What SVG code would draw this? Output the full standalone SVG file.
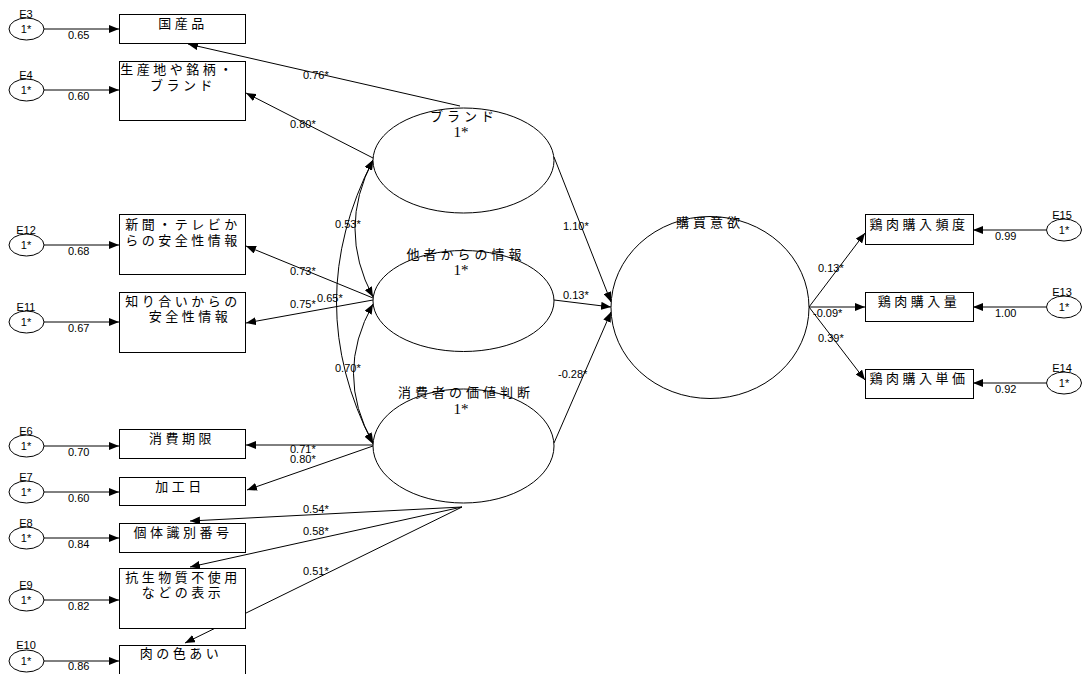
<svg xmlns="http://www.w3.org/2000/svg" width="1088" height="674" viewBox="0 0 1088 674">
<defs>
<marker id="arr" markerUnits="userSpaceOnUse" markerWidth="10" markerHeight="8" refX="10" refY="4" orient="auto-start-reverse">
<path d="M0,0 L10,4 L0,8 z" fill="#000"/>
</marker>
<style>
.bx{fill:#fff;stroke:#000;stroke-width:1}
.el{fill:#fff;stroke:#000;stroke-width:1}
.ln{fill:none;stroke:#000;stroke-width:1}
.a{marker-end:url(#arr)}
.d{marker-start:url(#arr);marker-end:url(#arr)}
.jp{font-family:"Noto Sans CJK JP","Noto Sans CJK SC",sans-serif;font-size:13px;letter-spacing:3.5px;fill:#000;text-anchor:middle}
.lt{font-family:"Noto Sans CJK JP","Noto Sans CJK SC",sans-serif;font-size:13px;letter-spacing:4px;fill:#000;text-anchor:middle}
.one{font-family:"Liberation Serif",serif;font-size:15px;fill:#000;text-anchor:middle}
.n{font-family:"Liberation Sans",Arial,sans-serif;font-size:11px;fill:#000}
.e{font-family:"Liberation Sans",Arial,sans-serif;font-size:11px;fill:#000;text-anchor:middle}
</style>
</defs>
<rect width="1088" height="674" fill="#fff"/>

<g id="connectors">
<line class="ln a" x1="44" y1="29" x2="119" y2="29"/>
<line class="ln a" x1="44" y1="90" x2="119" y2="90"/>
<line class="ln a" x1="44" y1="245" x2="119" y2="245"/>
<line class="ln a" x1="44" y1="322" x2="119" y2="322"/>
<line class="ln a" x1="44" y1="446" x2="119" y2="446"/>
<line class="ln a" x1="44" y1="492" x2="119" y2="492"/>
<line class="ln a" x1="44" y1="538" x2="119" y2="538"/>
<line class="ln a" x1="44" y1="600" x2="119" y2="600"/>
<line class="ln a" x1="44" y1="661" x2="119" y2="661"/>
<line class="ln a" x1="1046" y1="230" x2="973" y2="230"/>
<line class="ln a" x1="1046" y1="307" x2="973" y2="307"/>
<line class="ln a" x1="1046" y1="383" x2="973" y2="383"/>
<line class="ln a" x1="460" y1="106" x2="188" y2="44"/>
<line class="ln a" x1="373" y1="158" x2="246" y2="93"/>
<line class="ln a" x1="373" y1="298" x2="246" y2="246"/>
<line class="ln a" x1="373" y1="300" x2="246" y2="323"/>
<line class="ln a" x1="373" y1="445" x2="246" y2="445"/>
<line class="ln a" x1="373" y1="446" x2="247" y2="490"/>
<line class="ln a" x1="462" y1="507" x2="190" y2="521"/>
<line class="ln a" x1="462" y1="507" x2="190" y2="567"/>
<line class="ln a" x1="462" y1="507" x2="185" y2="643"/>
<path class="ln d" d="M373,160 Q337,229 373,297"/>
<path class="ln d" d="M373,304 Q334,374 373,443"/>
<path class="ln d" d="M373,160 Q300,302 373,444"/>
<line class="ln a" x1="554" y1="157" x2="611" y2="302"/>
<line class="ln a" x1="554" y1="300" x2="611" y2="307"/>
<line class="ln a" x1="554" y1="443" x2="611" y2="312"/>
<line class="ln a" x1="809" y1="307" x2="865" y2="233"/>
<line class="ln a" x1="809" y1="307" x2="865" y2="307"/>
<line class="ln a" x1="809" y1="307" x2="865" y2="380"/>
<text class="n" x="68" y="39">0.65</text>
<text class="n" x="68" y="100">0.60</text>
<text class="n" x="68" y="255">0.68</text>
<text class="n" x="68" y="332">0.67</text>
<text class="n" x="68" y="456">0.70</text>
<text class="n" x="68" y="502">0.60</text>
<text class="n" x="68" y="548">0.84</text>
<text class="n" x="68" y="610">0.82</text>
<text class="n" x="68" y="670">0.86</text>
<text class="n" x="995" y="240">0.99</text>
<text class="n" x="995" y="317">1.00</text>
<text class="n" x="995" y="393">0.92</text>
<text class="n" x="303" y="79">0.76*</text>
<text class="n" x="290" y="128">0.80*</text>
<text class="n" x="335" y="228">0.53*</text>
<text class="n" x="290" y="275">0.73*</text>
<text class="n" x="317" y="302">0.65*</text>
<text class="n" x="290" y="308">0.75*</text>
<text class="n" x="335" y="372">0.70*</text>
<text class="n" x="290" y="453">0.71*</text>
<text class="n" x="290" y="463">0.80*</text>
<text class="n" x="303" y="513">0.54*</text>
<text class="n" x="303" y="535">0.58*</text>
<text class="n" x="303" y="575">0.51*</text>
<text class="n" x="563" y="230">1.10*</text>
<text class="n" x="563" y="299">0.13*</text>
<text class="n" x="558" y="378">-0.28*</text>
<text class="n" x="818" y="272">0.13*</text>
<text class="n" x="813" y="317">-0.09*</text>
<text class="n" x="818" y="342">0.39*</text>
</g>

<g id="E3"><ellipse class="el" cx="26.5" cy="29" rx="17.5" ry="11"/><text class="e" x="26" y="33">1*</text><text class="e" x="26" y="18">E3</text></g>
<g id="E4"><ellipse class="el" cx="26.5" cy="90" rx="17.5" ry="11"/><text class="e" x="26" y="94">1*</text><text class="e" x="26" y="79">E4</text></g>
<g id="E12"><ellipse class="el" cx="26.5" cy="245" rx="17.5" ry="11"/><text class="e" x="26" y="249">1*</text><text class="e" x="26" y="234">E12</text></g>
<g id="E11"><ellipse class="el" cx="26.5" cy="322" rx="17.5" ry="11"/><text class="e" x="26" y="326">1*</text><text class="e" x="26" y="311">E11</text></g>
<g id="E6"><ellipse class="el" cx="26.5" cy="446" rx="17.5" ry="11"/><text class="e" x="26" y="450">1*</text><text class="e" x="26" y="435">E6</text></g>
<g id="E7"><ellipse class="el" cx="26.5" cy="492" rx="17.5" ry="11"/><text class="e" x="26" y="496">1*</text><text class="e" x="26" y="481">E7</text></g>
<g id="E8"><ellipse class="el" cx="26.5" cy="538" rx="17.5" ry="11"/><text class="e" x="26" y="542">1*</text><text class="e" x="26" y="527">E8</text></g>
<g id="E9"><ellipse class="el" cx="26.5" cy="600" rx="17.5" ry="11"/><text class="e" x="26" y="604">1*</text><text class="e" x="26" y="589">E9</text></g>
<g id="E10"><ellipse class="el" cx="26.5" cy="661" rx="17.5" ry="11"/><text class="e" x="26" y="665">1*</text><text class="e" x="26" y="649">E10</text></g>
<g id="E15"><ellipse class="el" cx="1064" cy="230" rx="17.5" ry="11"/><text class="e" x="1064" y="234">1*</text><text class="e" x="1062" y="219">E15</text></g>
<g id="E13"><ellipse class="el" cx="1064" cy="307" rx="17.5" ry="11"/><text class="e" x="1064" y="311">1*</text><text class="e" x="1062" y="296">E13</text></g>
<g id="E14"><ellipse class="el" cx="1064" cy="383" rx="17.5" ry="11"/><text class="e" x="1064" y="387">1*</text><text class="e" x="1062" y="372">E14</text></g>

<g id="n_kokusan"><rect class="bx" x="119.5" y="14.5" width="126" height="29"/><text class="jp" x="183" y="28">国産品</text></g>
<g id="n_sanchi"><rect class="bx" x="119.5" y="61.5" width="126" height="59"/><text class="jp" x="178" y="74">生産地や銘柄・</text><text class="jp" x="183" y="90">ブランド</text></g>
<g id="n_shinbun"><rect class="bx" x="119.5" y="214.5" width="126" height="60"/><text class="jp" x="183" y="229">新聞・テレビか</text><text class="jp" x="183" y="245">らの安全性情報</text></g>
<g id="n_shiriai"><rect class="bx" x="119.5" y="292.5" width="126" height="60"/><text class="jp" x="183" y="306">知り合いからの</text><text class="jp" x="190" y="321" letter-spacing="6">安全性情報</text></g>
<g id="n_shohi"><rect class="bx" x="119.5" y="429.5" width="126" height="29"/><text class="jp" x="182" y="443">消費期限</text></g>
<g id="n_kakou"><rect class="bx" x="119.5" y="477.5" width="126" height="28"/><text class="jp" x="180" y="491">加工日</text></g>
<g id="n_kotai"><rect class="bx" x="119.5" y="523.5" width="126" height="29"/><text class="jp" x="183" y="537">個体識別番号</text></g>
<g id="n_kousei"><rect class="bx" x="119.5" y="568.5" width="126" height="60"/><text class="jp" x="183" y="582">抗生物質不使用</text><text class="jp" x="183" y="597">などの表示</text></g>
<g id="n_niku"><rect class="bx" x="119.5" y="645.5" width="126" height="30"/><text class="jp" x="181" y="658">肉の色あい</text></g>

<g id="n_brand"><ellipse class="el" cx="463.5" cy="160.5" rx="90.5" ry="52.5"/><text class="lt" x="464" y="121">ブランド</text><text class="one" x="461" y="137">1*</text></g>
<g id="n_tasha"><ellipse class="el" cx="463.5" cy="301" rx="90.5" ry="50.5"/><text class="lt" x="466" y="259">他者からの情報</text><text class="one" x="461" y="275">1*</text></g>
<g id="n_kachi"><ellipse class="el" cx="463.5" cy="446" rx="90.5" ry="57"/><text class="lt" x="466" y="397">消費者の価値判断</text><text class="one" x="461" y="414">1*</text></g>
<g id="n_kobai"><ellipse class="el" cx="710" cy="307.5" rx="99" ry="91"/><text class="lt" x="710" y="227">購買意欲</text></g>

<g id="n_hindo"><rect class="bx" x="865.5" y="214.5" width="108" height="30"/><text class="jp" x="919" y="229">鶏肉購入頻度</text></g>
<g id="n_ryou"><rect class="bx" x="865.5" y="292.5" width="108" height="29"/><text class="jp" x="919" y="306">鶏肉購入量</text></g>
<g id="n_tanka"><rect class="bx" x="865.5" y="369.5" width="108" height="29"/><text class="jp" x="919" y="383">鶏肉購入単価</text></g>
</svg>
